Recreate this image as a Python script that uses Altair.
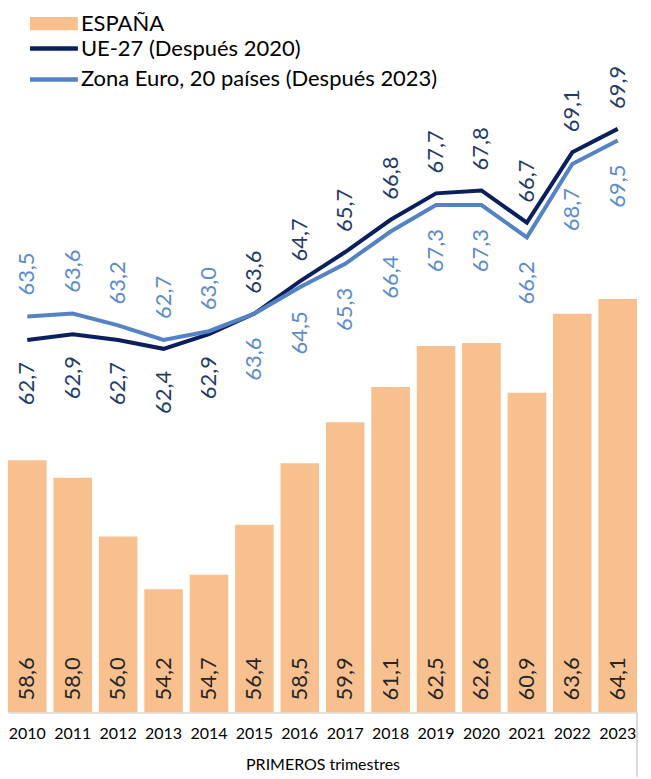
import altair as alt
import pandas as pd

years = [str(y) for y in range(2010, 2024)]
espana = [58.6, 58.0, 56.0, 54.2, 54.7, 56.4, 58.5, 59.9, 61.1, 62.5, 62.6, 60.9, 63.6, 64.1]
ue27 = [62.7, 62.9, 62.7, 62.4, 62.9, 63.6, 64.7, 65.7, 66.8, 67.7, 67.8, 66.7, 69.1, 69.9]
euro = [63.5, 63.6, 63.2, 62.7, 63.0, 63.6, 64.5, 65.3, 66.4, 67.3, 67.3, 66.2, 68.7, 69.5]

S_ES = "ESPAÑA"
S_UE = "UE-27 (Después 2020)"
S_EU = "Zona Euro, 20 países (Después 2023)"

rows = []
for i, y in enumerate(years):
    rows.append({"year": y, "serie": S_ES, "value": espana[i]})
    rows.append({"year": y, "serie": S_UE, "value": ue27[i]})
    rows.append({"year": y, "serie": S_EU, "value": euro[i]})
df = pd.DataFrame(rows)
df["lab"] = df["value"].map(lambda v: f"{v:.1f}".replace(".", ","))
df["yr"] = df["year"].astype(int)

FONT = "Lato"
BAR = "#F9C08F"
NAVY = "#0B1F5C"
LBLUE = "#5482C2"
NAVY_T = "#1F3A66"
LBLUE_T = "#5B8BC9"

W, H = 630, 705
LFS = 22  # legend font size

x = alt.X(
    "year:O",
    scale=alt.Scale(paddingInner=0.15, paddingOuter=0),
    axis=alt.Axis(
        title="PRIMEROS trimestres",
        labelAngle=0,
        labelFont=FONT,
        labelFontSize=16,
        labelColor="#000000",
        labelPadding=13,
        ticks=False,
        domainColor="#D9D9D9",
        domainWidth=1.5,
        titleFont=FONT,
        titleFontSize=16,
        titleFontWeight="normal",
        titleColor="#000000",
        titlePadding=15,
    ),
)
yscale = alt.Scale(domain=[50, 74], zero=False, nice=False)
yv = alt.Y("value:Q", scale=yscale, axis=None)

es_df = df[df.serie == S_ES]
ln_df = df[df.serie != S_ES]

bars = alt.Chart(es_df).mark_bar(clip=True).encode(
    x=x,
    y=yv,
    y2=alt.Y2(datum=50),
    fill=alt.Fill(
        "serie:N",
        scale=alt.Scale(domain=[S_ES], range=[BAR]),
        legend=alt.Legend(
            orient="none", legendX=35, legendY=4, title=None,
            symbolType="M-4,-1.1L4,-1.1L4,1.1L-4,1.1Z",
            symbolSize=144, symbolStrokeWidth=0,
            labelFont=FONT, labelFontSize=LFS, labelColor="#000000",
            labelOffset=16, labelLimit=500,
        ),
    ),
)

bar_labels = alt.Chart(es_df.assign(base=50)).mark_text(
    angle=270, align="left", baseline="middle", dx=12,
    font=FONT, fontSize=22, color="#262626",
).encode(x=x, y=alt.Y("base:Q", scale=yscale, axis=None), text="lab:N")

lines = alt.Chart(ln_df).mark_line(strokeWidth=4).encode(
    x=x,
    y=yv,
    stroke=alt.Stroke(
        "serie:N",
        scale=alt.Scale(domain=[S_UE, S_EU], range=[NAVY, LBLUE]),
        legend=alt.Legend(
            orient="none", legendX=35, legendY=29, title=None,
            symbolType="M-4,0L4,0", symbolSize=144, symbolStrokeWidth=4.5,
            labelFont=FONT, labelFontSize=LFS, labelColor="#000000",
            labelOffset=16, labelLimit=500, rowPadding=9,
        ),
    ),
)

common = dict(angle=270, baseline="middle", font=FONT, fontSize=22)

ue = df[df.serie == S_UE]
eu = df[df.serie == S_EU]
ue_up = alt.Chart(ue[ue.yr >= 2015]).mark_text(align="left", dx=20, color=NAVY_T, **common).encode(
    x=x, y=yv, text="lab:N")
ue_dn = alt.Chart(ue[ue.yr < 2015]).mark_text(align="right", dx=-22, color=NAVY_T, **common).encode(
    x=x, y=yv, text="lab:N")
eu_up = alt.Chart(eu[eu.yr < 2015]).mark_text(align="left", dx=21, color=LBLUE_T, **common).encode(
    x=x, y=yv, text="lab:N")
eu_dn = alt.Chart(eu[eu.yr >= 2015]).mark_text(align="right", dx=-24, color=LBLUE_T, **common).encode(
    x=x, y=yv, text="lab:N")

edge = alt.Chart(es_df).mark_rule(color="#D9D9D9", strokeWidth=1.5).encode(
    x=alt.value(W), y=alt.value(H), y2=alt.value(H + 64)
)

chart = alt.layer(bars, bar_labels, lines, ue_up, ue_dn, eu_up, eu_dn, edge).properties(
    width=W, height=H, padding={"left": 0, "top": 0, "right": 5, "bottom": 0}
).configure_view(stroke=None)

chart.save("out.html", embed_options={"renderer": "svg", "actions": False})
